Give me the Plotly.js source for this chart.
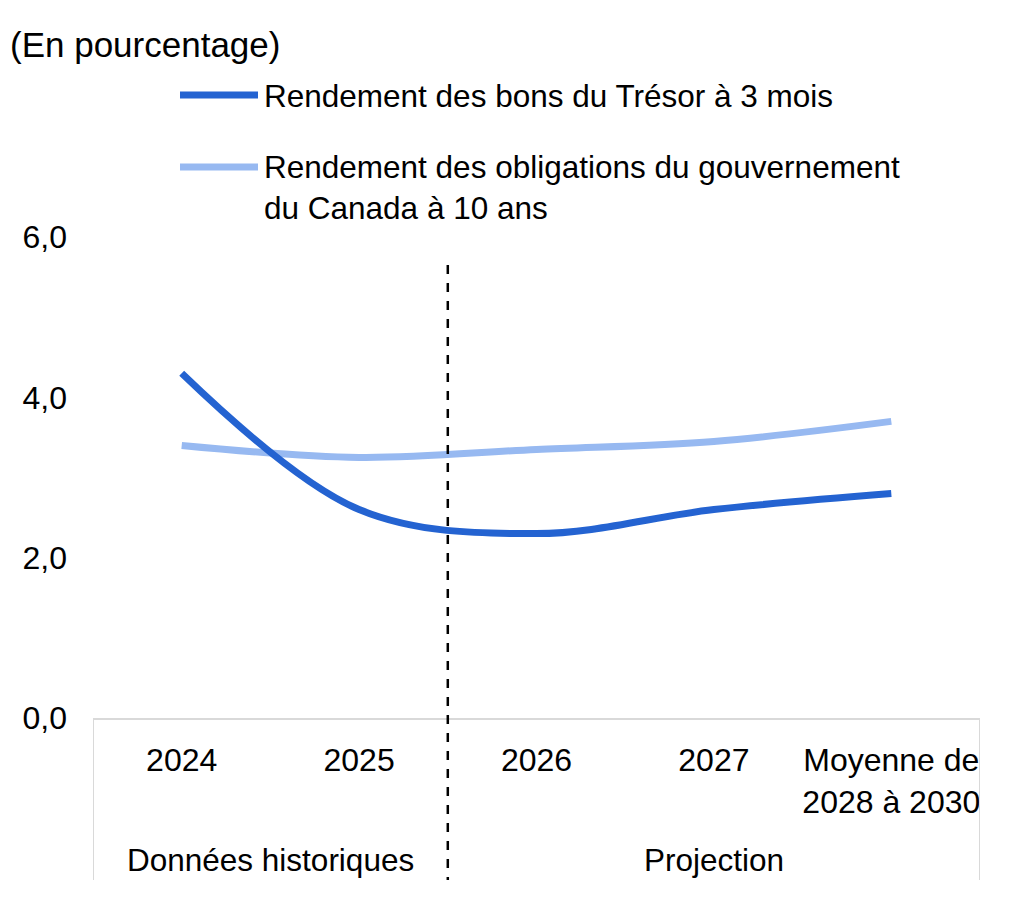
<!DOCTYPE html>
<html>
<head>
<meta charset="utf-8">
<script src="https://cdn.plot.ly/plotly-3.0.1.min.js"></script>
<style>html,body{margin:0;padding:0;background:#fff;}#chart{width:1013px;height:907px;}</style>
</head>
<body>
<div id="chart"></div>
<script>
const categories = ["2024", "2025", "2026", "2027", "Moyenne de<br>2028 à 2030"];
const treasuryBills = [4.3, 2.6, 2.3, 2.6, 2.8];
const bonds10y = [3.4, 3.25, 3.35, 3.45, 3.7];
const seriesNames = ["Rendement des bons du Trésor à 3 mois", "Rendement des obligations du gouvernement<br>du Canada à 10 ans"];
const groupLabels = ["Données historiques", "Projection"];
const yTicks = [0, 2, 4, 6];
const unitLabel = "(En pourcentage)";

const dark = "#2463D1";
const light = "#97B9F1";
const FONT = "Liberation Sans, Arial, sans-serif";

const xIdx = categories.map((c, i) => i);

const traces = [
  {x: xIdx, y: bonds10y, type: "scatter", mode: "lines", name: seriesNames[1],
   line: {color: light, width: 7, shape: "spline", smoothing: 1}, hoverinfo: "skip"},
  {x: xIdx, y: treasuryBills, type: "scatter", mode: "lines", name: seriesNames[0],
   line: {color: dark, width: 7, shape: "spline", smoothing: 1}, hoverinfo: "skip"}
];

const layout = {
  width: 1013, height: 907,
  margin: {l: 93, r: 33, t: 237, b: 189},
  paper_bgcolor: "#fff", plot_bgcolor: "#fff",
  showlegend: false,
  separators: ", ",
  font: {family: FONT, size: 32, color: "#000"},
  xaxis: {
    range: [-0.5, 4.5], tickmode: "array", tickvals: xIdx, ticktext: categories,
    showgrid: false, zeroline: false, showline: true, linecolor: "#d9d9d9", linewidth: 2,
    ticks: "", ticklabelstandoff: 13, tickfont: {size: 32, family: FONT}, fixedrange: true
  },
  yaxis: {
    range: [0, 6], tickmode: "array", tickvals: yTicks, tickformat: ".1f",
    showgrid: false, zeroline: false, showline: false, ticks: "",
    ticklabelstandoff: 25, tickfont: {size: 32, family: FONT}, fixedrange: true
  },
  shapes: [
    {type: "line", xref: "x", yref: "paper", x0: -0.5, x1: -0.5, y0: 0, y1: -0.337, line: {color: "#d9d9d9", width: 2}},
    {type: "line", xref: "x", yref: "paper", x0: 4.5, x1: 4.5, y0: 0, y1: -0.337, line: {color: "#d9d9d9", width: 2}},
    {type: "line", xref: "x", yref: "paper", x0: 1.5, x1: 1.5, y0: 0.942, y1: -0.337, line: {color: "#000", width: 2.5, dash: "dash"}},
    {type: "line", xref: "paper", yref: "paper", x0: (180-93)/887, x1: (258-93)/887, y0: (718-95)/481, y1: (718-95)/481, line: {color: dark, width: 7}},
    {type: "line", xref: "paper", yref: "paper", x0: (180-93)/887, x1: (258-93)/887, y0: (718-167)/481, y1: (718-167)/481, line: {color: light, width: 7}}
  ],
  annotations: [
    {text: unitLabel, xref: "paper", yref: "paper", x: (8-93)/887, y: (718-44)/481, xanchor: "left", yanchor: "middle", showarrow: false, font: {size: 35, family: FONT}},
    {text: seriesNames[0], xref: "paper", yref: "paper", x: (262-93)/887, y: (718-96)/481, xanchor: "left", yanchor: "middle", showarrow: false, font: {size: 31.5, family: FONT}},
    {text: seriesNames[1], xref: "paper", yref: "paper", x: (262-93)/887, y: (718-187)/481, xanchor: "left", yanchor: "middle", align: "left", showarrow: false, font: {size: 31.5, family: FONT}},
    {text: groupLabels[0], xref: "x", yref: "paper", x: 0.5, y: (718-860)/481, xanchor: "center", yanchor: "middle", showarrow: false, font: {size: 31.5, family: FONT}},
    {text: groupLabels[1], xref: "x", yref: "paper", x: 3.0, y: (718-860)/481, xanchor: "center", yanchor: "middle", showarrow: false, font: {size: 31.5, family: FONT}}
  ]
};

Plotly.newPlot("chart", traces, layout, {staticPlot: true, displayModeBar: false});
</script>
</body>
</html>
